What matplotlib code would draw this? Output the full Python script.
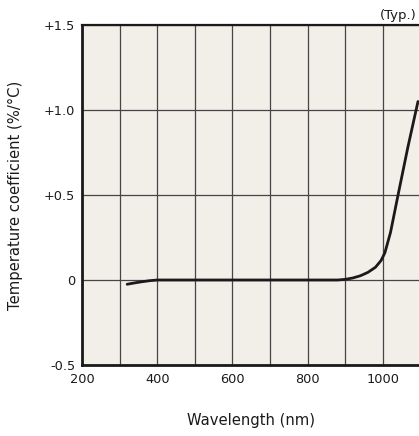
import matplotlib

matplotlib.use("Agg")
import matplotlib.pyplot as plt  # noqa: E402

wavelength = [320, 340, 360, 380, 400, 500, 600, 700, 800, 880, 900, 920, 940,
              960, 980, 995, 1005, 1020, 1040, 1066, 1093]
temp_coef = [-0.025, -0.017, -0.01, -0.004, 0.0, 0.0, 0.0, 0.0, 0.0, 0.0,
             0.004, 0.012, 0.025, 0.045, 0.075, 0.115, 0.16, 0.28, 0.5, 0.78, 1.05]

x_ticks = [200, 400, 600, 800, 1000]
y_ticks = [-0.5, 0, 0.5, 1.0, 1.5]
y_tick_labels = ["-0.5", "0", "+0.5", "+1.0", "+1.5"]

W, H = 419, 436
fig = plt.figure(figsize=(W / 100, H / 100), dpi=100)
ax = fig.add_axes([82 / W, 71 / H, 1 - 82 / W, 340 / H])
ax.set_facecolor("#f2efe9")

ax.plot(wavelength, temp_coef, color="#1a1a1a", lw=2.0, solid_capstyle="round",
        zorder=3)

ax.set_xlim(200, 1095.7)
ax.set_ylim(-0.5, 1.5)
ax.set_xticks(x_ticks)
ax.set_xticks(range(300, 1100, 200), minor=True)
ax.set_yticks(y_ticks)
ax.set_yticklabels(y_tick_labels)
ax.grid(True, which="both", color="#454545", lw=0.9, zorder=1)
ax.set_axisbelow(True)
ax.tick_params(which="both", length=0, labelsize=9.3, colors="#1a1a1a")
ax.tick_params(axis="x", pad=6)
ax.tick_params(axis="y", pad=5)

ax.spines["right"].set_visible(False)
ax.spines["left"].set_linewidth(2.0)
ax.spines["bottom"].set_linewidth(2.0)
ax.spines["top"].set_linewidth(1.6)
for s in ax.spines.values():
    s.set_color("#1a1a1a")

ax.set_xlabel("Wavelength (nm)", fontsize=10.6, labelpad=19, color="#1a1a1a")
ax.set_ylabel("Temperature coefficient (%/°C)", fontsize=10.6, labelpad=15,
              color="#1a1a1a")
fig.text(417 / W, 1 - 15 / H, "(Typ.)", ha="right", va="center", fontsize=9.5,
         color="#1a1a1a")

fig.savefig("out.png", dpi=100)
